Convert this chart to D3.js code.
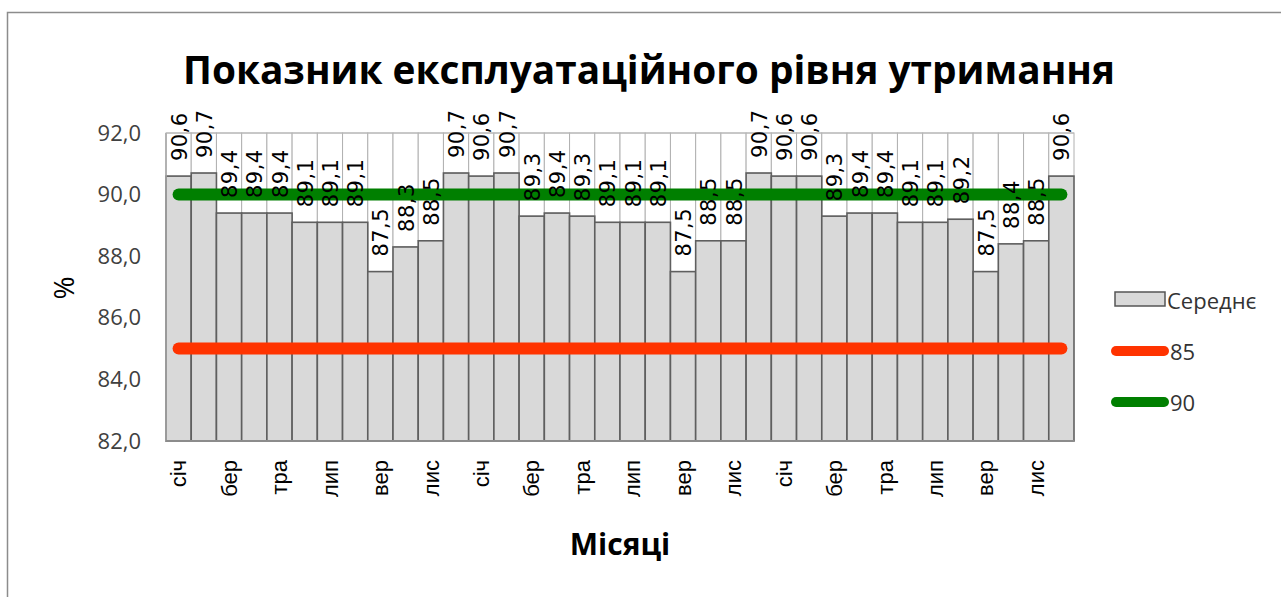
<!DOCTYPE html>
<html>
<head>
<meta charset="utf-8">
<script src="https://cdn.jsdelivr.net/npm/d3@7"></script>
<style>
  html, body { margin: 0; padding: 0; background: #fff; }
  svg { display: block; }
</style>
</head>
<body>
<svg id="chart" width="1281" height="597"></svg>
<script>
// ---- data ----
const months = ["січ","лют","бер","кві","тра","чер","лип","сер","вер","жов","лис","гру"];
const categories = [].concat(months, months, months).map((m, i) => m + "#" + i);
const tickLabels = categories.map((c, i) => i % 2 === 0 ? c.split("#")[0] : "");
const averageValues = [90.6, 90.7, 89.4, 89.4, 89.4, 89.1, 89.1, 89.1, 87.5, 88.3, 88.5, 90.7,
                       90.6, 90.7, 89.3, 89.4, 89.3, 89.1, 89.1, 89.1, 87.5, 88.5, 88.5, 90.7,
                       90.6, 90.6, 89.3, 89.4, 89.4, 89.1, 89.1, 89.2, 87.5, 88.4, 88.5, 90.6];
const level85 = 85;
const level90 = 90;
const yTicks = [82, 84, 86, 88, 90, 92];
const title = "Показник експлуатаційного рівня утримання";
const xTitle = "Місяці";
const yTitle = "%";
const legendNames = ["Середнє", "85", "90"];

// ---- layout ----
const svg = d3.select("#chart");
const plot = { left: 166, right: 1074, top: 133, bottom: 441 };

const x = d3.scaleBand().domain(categories).range([plot.left, plot.right]).padding(0);
const y = d3.scaleLinear().domain([82, 92]).range([plot.bottom, plot.top]);

// outer chart border
svg.append("rect").attr("x", 7.5).attr("y", 12.5).attr("width", 1290).attr("height", 600)
  .attr("fill", "none").attr("stroke", "#8c8c8c").attr("stroke-width", 1.5);

// title
const t = svg.append("text").attr("x", 649).attr("y", 84).attr("text-anchor", "middle")
  .attr("font-family", "Open Sans").attr("font-weight", "bold").attr("font-size", 40)
  .attr("fill", "#000").text(title);
t.attr("textLength", 932).attr("lengthAdjust", "spacingAndGlyphs");

// bar columns (upper white part)
const g = svg.append("g");
g.selectAll("rect.col").data(averageValues).join("rect").attr("class", "col")
  .attr("x", (d, i) => x(categories[i]))
  .attr("y", y(92))
  .attr("width", x.bandwidth())
  .attr("height", (d) => y(d) - y(92))
  .attr("fill", "#fff").attr("stroke", "#b0b0b0").attr("stroke-width", 1);

// gray bars
g.selectAll("rect.bar").data(averageValues).join("rect").attr("class", "bar")
  .attr("x", (d, i) => x(categories[i]))
  .attr("y", (d) => y(d))
  .attr("width", x.bandwidth())
  .attr("height", (d) => y(82) - y(d))
  .attr("fill", "#d9d9d9").attr("stroke", "#5f5f5f").attr("stroke-width", 1.6);

// plot frame (left / bottom / top light)
svg.append("line").attr("x1", plot.left).attr("x2", plot.left).attr("y1", plot.top).attr("y2", plot.bottom)
  .attr("stroke", "#a6a6a6").attr("stroke-width", 1.5);
svg.append("line").attr("x1", plot.left).attr("x2", plot.right).attr("y1", plot.bottom).attr("y2", plot.bottom)
  .attr("stroke", "#8c8c8c").attr("stroke-width", 2);
svg.append("line").attr("x1", plot.left).attr("x2", plot.right).attr("y1", plot.top).attr("y2", plot.top)
  .attr("stroke", "#b8b8b8").attr("stroke-width", 1);

// level lines (through first to last category centres)
const cx = (c) => x(c) + x.bandwidth() / 2;
const lineGen = d3.line().x((d) => cx(d.c)).y((d) => y(d.v));
[[level85, "#ff3300"], [level90, "#007f00"]].forEach(([v, col]) => {
  svg.append("path")
    .attr("d", lineGen(categories.map((c) => ({ c, v }))))
    .attr("fill", "none").attr("stroke", col).attr("stroke-width", 12)
    .attr("stroke-linecap", "round");
});

// data labels
svg.append("g").selectAll("text").data(averageValues).join("text")
  .attr("transform", (d, i) => `translate(${cx(categories[i]) + 1},${y(d) - 15}) rotate(-90)`)
  .attr("text-anchor", "start").attr("dominant-baseline", "central")
  .attr("font-family", "DejaVu Sans").attr("font-size", 21).attr("letter-spacing", 0.5)
  .attr("fill", "#000")
  .text((d) => d.toFixed(1).replace(".", ","));

// y axis ticks
const yAxis = d3.axisLeft(y).tickValues(yTicks).tickSize(0).tickPadding(0)
  .tickFormat((d) => d.toFixed(1).replace(".", ","));
const ya = svg.append("g").attr("transform", `translate(141,0)`).call(yAxis);
ya.select(".domain").remove();
ya.selectAll("text").attr("font-family", "Open Sans").attr("font-size", 22).attr("fill", "#404040");

// x axis ticks
const xAxis = d3.axisBottom(x).tickSize(0).tickPadding(0).tickFormat((d, i) => tickLabels[i]);
const xa = svg.append("g").attr("transform", `translate(0,${plot.bottom})`).call(xAxis);
xa.select(".domain").remove();
xa.selectAll("text")
  .attr("transform", "translate(0,19) rotate(-90)")
  .attr("text-anchor", "end").attr("dy", "0.35em").attr("y", 0).attr("x", 0)
  .attr("font-family", "Liberation Sans").attr("font-size", 22).attr("fill", "#000");

// axis titles
svg.append("text").attr("x", 620).attr("y", 555).attr("text-anchor", "middle")
  .attr("font-family", "Open Sans").attr("font-weight", "bold").attr("font-size", 30)
  .attr("fill", "#000").text(xTitle);
svg.append("text").attr("transform", "translate(74,288) rotate(-90)").attr("text-anchor", "middle")
  .attr("font-family", "Open Sans").attr("font-size", 28).attr("fill", "#000").text(yTitle);

// legend
const lg = svg.append("g");
lg.append("rect").attr("x", 1115).attr("y", 292).attr("width", 50).attr("height", 14)
  .attr("fill", "#d9d9d9").attr("stroke", "#555").attr("stroke-width", 1.5);
lg.append("text").attr("x", 1167).attr("y", 300).attr("dominant-baseline", "central")
  .attr("font-family", "Open Sans").attr("font-size", 22).attr("fill", "#333").text(legendNames[0]);
[[351, "#ff3300", legendNames[1]], [402, "#007f00", legendNames[2]]].forEach(([yy, col, name]) => {
  lg.append("line").attr("x1", 1116).attr("x2", 1164).attr("y1", yy).attr("y2", yy)
    .attr("stroke", col).attr("stroke-width", 10).attr("stroke-linecap", "round");
  lg.append("text").attr("x", 1170).attr("y", yy).attr("dominant-baseline", "central")
    .attr("font-family", "Open Sans").attr("font-size", 22).attr("fill", "#333").text(name);
});
</script>
</body>
</html>
